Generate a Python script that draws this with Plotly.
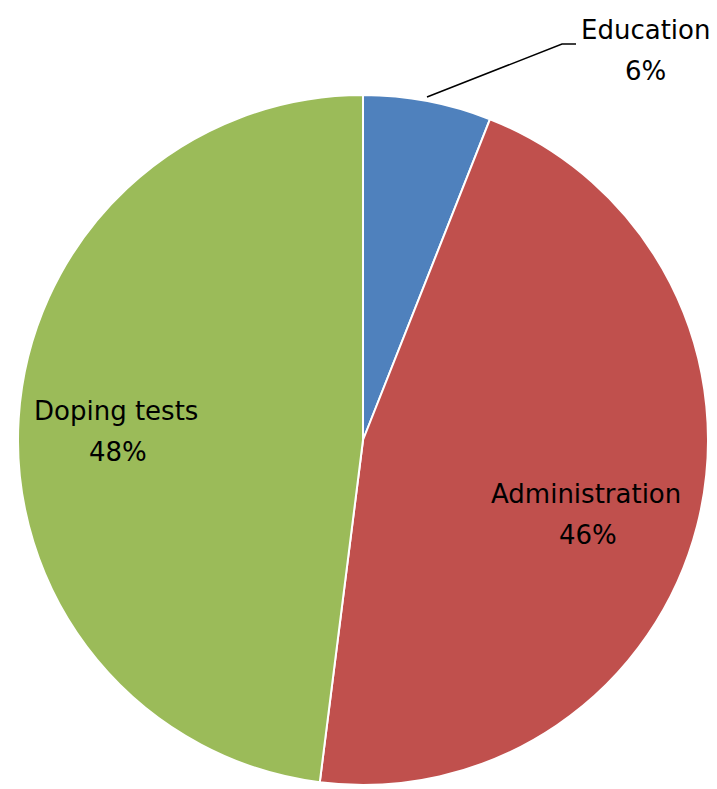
import plotly.graph_objects as go

categories = ["Education", "Administration", "Doping tests"]
values = [6, 46, 48]
colors = ["#4F81BD", "#C0504D", "#9BBB59"]

W, H = 717, 789
cx, cy, r = 363, 440, 345

def px(x):
    return x / W

def py(y):
    return 1 - y / H

fig = go.Figure(go.Pie(
    labels=categories,
    values=values,
    sort=False,
    direction="clockwise",
    rotation=0,
    marker=dict(colors=colors, line=dict(color="white", width=2)),
    textinfo="none",
    hoverinfo="label+percent",
    domain=dict(x=[px(cx - r), px(cx + r)], y=[py(cy + r), py(cy - r)]),
    showlegend=False,
))

total = sum(values)
pct = [f"{round(v / total * 100)}%" for v in values]

# label positions (pixels): name line, percent line
label_pos = {
    "Education": ((645, 30), (645, 71)),
    "Administration": ((586, 494), (588, 535)),
    "Doping tests": ((116, 411), (118, 452)),
}
font = dict(family="DejaVu Sans", size=26, color="black")
anns = []
for name, p in zip(categories, pct):
    (x1, y1), (x2, y2) = label_pos[name]
    anns.append(dict(x=px(x1), y=py(y1), xref="paper", yref="paper", text=name,
                     showarrow=False, font=font, xanchor="center", yanchor="middle"))
    anns.append(dict(x=px(x2), y=py(y2), xref="paper", yref="paper", text=p,
                     showarrow=False, font=font, xanchor="center", yanchor="middle"))

fig.update_layout(
    width=W, height=H,
    margin=dict(l=0, r=0, t=0, b=0),
    paper_bgcolor="white",
    plot_bgcolor="white",
    annotations=anns,
    shapes=[dict(type="path", xref="paper", yref="paper",
                 path=f"M {px(427)},{py(97)} L {px(562)},{py(44)} L {px(576)},{py(44)}",
                 line=dict(color="black", width=1.5))],
)

fig.write_html("out.html")
